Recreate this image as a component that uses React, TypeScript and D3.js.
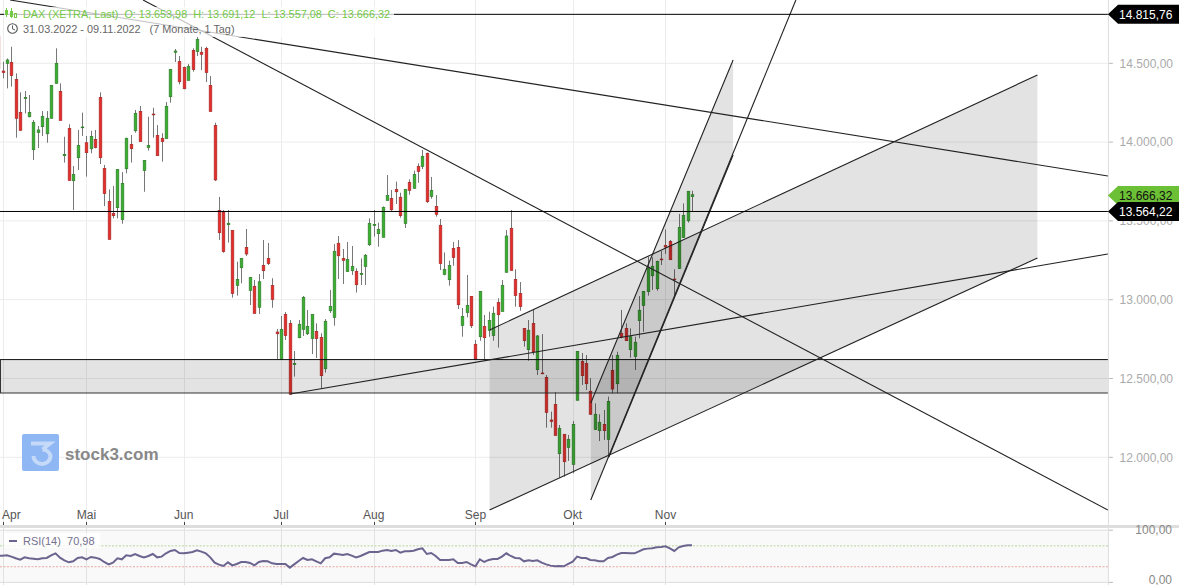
import React from 'react';
import * as d3 from 'd3';

const W = 1179;
const H = 585;

const opens = [14673,14451,14500,14506,14398,14189,14276,14161,13952,14060,14098,14053,14151,14373,14322,13914,14087,13755,13901,14092,
  13996,13958,14017,14284,13833,13624,13548,13584,13508,13831,13986,14072,14195,13819,13965,14178,14043,14024,14022,14288,
  14570,14512,14474,14392,14582,14574,14570,14595,14360,14106,13567,13556,13476,13440,13091,13203,13332,13059,13085,12952,
  13218,13262,13091,12795,12622,12907,12850,12588,12759,12812,12784,12753,12799,12761,12562,12930,12888,13358,13262,13178,
  13184,13180,13159,13210,13349,13470,13419,13396,13630,13643,13700,13650,13484,13745,13707,13846,13846,13929,13656,13592,
  13472,13161,13127,13326,13332,12837,12918,13021,12717,12765,12831,12806,12772,12983,12926,13174,13453,13129,13040,12818,
  12683,12850,12556,12535,12507,12237,12336,12023,12146,12063,11955,12362,12609,12596,12419,12177,12169,12209,12114,12552,
  12467,12787,12818,12683,12639,12867,12964,13051,13152,13070,13258,13345,13370,13131,13199,13394,13501,13653.98];
const highs = [14673,14510,14531,14605,14436,14316,14324,14299,14140,14102,14197,14197,14360,14595,14373,14034,14113,13848,14077,14187,
  14039,14072,14077,14316,13855,13700,13721,13827,13810,14028,14045,14204,14229,13884,14161,14218,14108,14056,14254,14462,
  14591,14546,14479,14495,14595,14669,14605,14605,14419,14123,13652,13569,13569,13440,13241,13262,13449,13142,13125,13163,
  13379,13360,13136,12814,12897,12922,12871,12674,12871,13023,12935,12907,12850,12787,12877,13062,13353,13404,13322,13366,
  13341,13199,13262,13290,13516,13569,13489,13592,13791,13696,13749,13679,13700,13764,13819,13865,13950,13933,13779,13664,
  13512,13300,13248,13366,13379,12947,13157,13021,12744,13053,12903,12924,12956,13009,13125,13442,13569,13193,13112,12818,
  12871,12939,12776,12782,12522,12290,12414,12205,12146,12142,12230,12672,12662,12649,12503,12342,12273,12300,12385,12649,
  12670,12935,12850,12818,12765,13023,13053,13273,13269,13248,13309,13446,13379,13193,13544,13611,13688,13691.12];
const lows = [14450,14405,14341,14352,14028,14070,14182,14157,13886,13962,14039,13996,14151,14373,14138,13870,13757,13569,13823,14039,
  13781,13929,13960,13861,13594,13383,13516,13516,13482,13802,13870,14060,14003,13685,13946,14028,13914,13876,14022,14250,
  14508,14366,14335,14390,14447,14546,14457,14381,14193,13753,13379,13298,13362,13013,13026,13104,13277,12966,12913,12909,
  13131,13220,12949,12622,12617,12744,12400,12512,12755,12770,12776,12655,12630,12438,12537,12916,12835,13131,13100,13178,
  13157,13045,13093,13093,13341,13400,13336,13396,13630,13563,13607,13520,13455,13666,13704,13742,13829,13614,13641,13527,
  13188,13155,13089,13216,12941,12765,12888,12820,12617,12740,12617,12765,12740,12696,12924,13172,13186,12956,12930,12702,
  12613,12649,12522,12528,12188,12188,12137,11871,11877,11977,11898,12362,12459,12427,12271,12173,12103,12110,12004,12406,
  12406,12755,12740,12632,12554,12755,12797,13026,13062,13057,13220,13290,13252,13030,13195,13394,13489,13557.08];
const closes = [14468,14441,14521,14422,14151,14075,14284,14189,14125,14077,14163,14151,14360,14500,14138,13922,13757,13795,13979,14096,
  13933,14036,13965,13901,13673,13383,13533,13827,13738,14024,13958,14182,14003,13884,13979,14174,13914,14003,14227,14462,
  14578,14383,14339,14481,14460,14652,14557,14441,14195,13760,13425,13305,13485,13040,13129,13262,13290,13142,12913,13114,
  13184,13229,13002,12784,12812,12772,12400,12596,12844,13015,12831,12907,12753,12518,12863,12958,13307,13279,13250,13256,
  13212,13095,13167,13282,13484,13478,13446,13586,13662,13571,13685,13533,13700,13694,13795,13814,13910,13622,13694,13542,
  13229,13193,13218,13267,12968,12894,12964,12835,12624,13053,12759,12869,12914,12905,13091,13404,13186,13026,12956,12740,
  12806,12670,12770,12531,12285,12228,12139,12184,11972,12114,12209,12672,12518,12467,12273,12273,12222,12169,12355,12433,
  12647,12763,12740,12765,12730,12933,13053,13201,13212,13243,13254,13334,13254,13127,13459,13535,13688,13666.32];
const rsiValues = [50.6,51.2,51.9,49.3,46.2,43.6,48,46.2,45.5,44.2,46.2,46.8,51.9,55.7,47.4,42.3,38.5,40.4,46.8,48,
  44.2,48.7,47.4,44.9,39.1,34.6,37.8,46.2,44.2,51.9,50.6,54.4,50.6,48,50.6,54.4,48,49.3,55.7,60.2,
  62.1,56.4,55.7,57,58.3,61.5,58.9,55.7,48,37.8,34,31.5,38.5,32.7,35.3,39.1,39.1,37.2,32.7,39.1,
  41,40.4,36.6,35.3,35.3,35.3,28.3,34.6,41,46.8,43,44.2,40.4,36.6,46.2,48,55.1,53.8,52.5,54.4,
  51.2,48,50.6,54.4,58.3,58.3,58.3,60.8,62.1,60.2,62.1,57,59.6,59.6,60.8,63.4,65.3,54.4,56.4,50.6,
  43,43,43,44.2,37.2,37.2,39.1,34.6,30.8,44.2,39.1,43,44.9,44.9,49.3,55.7,50.6,46.8,46.2,40.4,
  42.3,41,42.3,37.8,34.6,32.1,30.8,31.5,30.8,35.3,39.8,49.3,46.8,46.8,43,42.3,40.4,40.4,46.8,48.7,
  53.2,56.4,56.4,55.7,55.7,59.6,63.4,64.7,65.3,67.2,67.9,69.1,65.3,60.2,67.2,69.8,71,70.98];

const priceTicks = [14500, 14000, 13500, 13000, 12500, 12000];
const monthLabels = ['Apr', 'Mai', 'Jun', 'Jul', 'Aug', 'Sep', 'Okt', 'Nov'];
const monthIndex = [1, 20, 42, 64, 85, 108, 130, 151];
const rsiTicks = [100, 0];
const rsiGuides = [70, 30];

const resistance = 14815.76;
const support = 13564.22;
const lastClose = 13666.32;
const zoneTop = 12620;
const zoneBottom = 12408;
const lastBar = 251.1;

// index, price
const trendLines: [number, number, number, number][] = [
  [32.8, 14901.6, lastBar, 11665.6],
  [2.7, 14901.6, lastBar, 13784.9],
  [66.1, 12401.7, lastBar, 13290],
  [134.1, 11729, 180.5, 14901.6],
  [138.2, 12002, 166.3, 13918],
];
// upper start, upper end, lower end, lower start
const channels: [number, number][][] = [
  [[111.2, 12807.8], [235.15, 14425.7], [235.15, 13264.6], [111.2, 11665.6]],
  [[134.1, 12344.5], [166.3, 14520.9], [166.3, 13918], [134.1, 11729]],
];

const fmt = (v: number) =>
  v.toLocaleString('de-DE', { minimumFractionDigits: 2, maximumFractionDigits: 2 });

const FONT = '"Liberation Sans", Arial, sans-serif';

const App: React.FC = () => {
  const x = d3.scaleLinear().domain([1, 157]).range([2.5, 692]);
  const y = d3.scaleLinear().domain([14500, 12000]).range([63.3, 457.3]);
  const rsiY = d3.scaleLinear().domain([100, 0]).range([530.2, 582.4]);
  const plotRight = x(lastBar);

  const rsiLine = d3.line<number>()
    .x((_, i) => x(i))
    .y(d => rsiY(d))
    .curve(d3.curveLinear);

  const tag = (value: number, fill: string, color: string) => {
    const cy = y(value) + 0.8;
    return (
      <g key={value}>
        <path d={`M${plotRight},${cy} L1118,${cy - 9.5} H1179 V${cy + 9.5} H1118 Z`} fill={fill} />
        <text x={1119} y={cy + 4.3} fontSize={12} fill={color}>{fmt(value)}</text>
      </g>
    );
  };

  return (
    <svg width={W} height={H} style={{ position: 'absolute', left: 0, top: 0, display: 'block', background: '#fff' }} fontFamily={FONT}>
      <defs>
        <clipPath id="main"><rect x={0} y={0} width={plotRight} height={525} /></clipPath>
      </defs>

      {/* Grid */}
      {priceTicks.map(t => (
        <line key={t} x1={0} x2={plotRight} y1={y(t)} y2={y(t)} stroke="#ececec" strokeWidth={1} />
      ))}
      {monthIndex.map(i => (
        <line key={i} x1={Math.round(x(i)) + 0.5} x2={Math.round(x(i)) + 0.5} y1={0} y2={525} stroke="#ececec" strokeWidth={1} />
      ))}

      {/* Watermark */}
      <rect x={22} y={434} width={37} height={37} rx={2} fill="#8fb7f4" />
      <path d="M31,443.5 H50 L42.5,449.5 M33.5,456 A8.5,8 0 0 0 50.5,456 A8.5,8 0 0 0 42.5,449.5" fill="none" stroke="#c5d9f8" strokeWidth={4} />
      <text x={65} y={459.5} fontSize={17} fontWeight={700} fill="#888">stock3.com</text>

      {/* Candles */}
      <g clipPath="url(#main)">
        {opens.map((o, i) => {
          const c = closes[i];
          const up = c >= o;
          const cx = Math.round(x(i));
          const top = y(Math.max(o, c));
          const bottom = y(Math.min(o, c));
          return (
            <g key={i}>
              <line x1={cx + 0.5} x2={cx + 0.5} y1={y(highs[i])} y2={y(lows[i])} stroke="#777" strokeWidth={1} />
              <rect
                x={cx - 0.8}
                y={top}
                width={2.6}
                height={Math.max(bottom - top, 0.8)}
                fill={up ? '#3bb02f' : '#e82e2a'}
                stroke={up ? '#2f7f2a' : '#a82a28'}
                strokeWidth={0.7}
              />
            </g>
          );
        })}

        {/* Drawings */}
        <rect x={0.5} y={y(zoneTop)} width={plotRight - 0.5} height={y(zoneBottom) - y(zoneTop)} fill="rgba(0,0,0,0.11)" stroke="none" />
        <line x1={0} x2={plotRight} y1={y(zoneTop)} y2={y(zoneTop)} stroke="#111" strokeWidth={1} />
        <line x1={0} x2={plotRight} y1={y(zoneBottom)} y2={y(zoneBottom)} stroke="#333" strokeWidth={1.2} />
        <line x1={0.5} x2={0.5} y1={y(zoneTop)} y2={y(zoneBottom)} stroke="#333" strokeWidth={1} />
        {channels.map((ch, k) => (
          <g key={k}>
            <path
              d={d3.line<[number, number]>().x(d => x(d[0])).y(d => y(d[1]))(ch) + 'Z'}
              fill="rgba(0,0,0,0.11)"
            />
            <line x1={x(ch[0][0])} y1={y(ch[0][1])} x2={x(ch[1][0])} y2={y(ch[1][1])} stroke="#222" strokeWidth={1.1} />
            {k === 0 && (
              <line x1={x(ch[2][0])} y1={y(ch[2][1])} x2={x(ch[3][0])} y2={y(ch[3][1])} stroke="#222" strokeWidth={1.1} />
            )}
          </g>
        ))}
        {trendLines.map((l, k) => (
          <line key={k} x1={x(l[0])} y1={y(l[1])} x2={x(l[2])} y2={y(l[3])} stroke="#222" strokeWidth={1.1} />
        ))}
        <line x1={0} x2={plotRight} y1={y(resistance) + 0.8} y2={y(resistance) + 0.8} stroke="#000" strokeWidth={1} />
        <line x1={0} x2={plotRight} y1={y(support) + 0.7} y2={y(support) + 0.7} stroke="#000" strokeWidth={1} />
      </g>

      {/* Header */}
      <rect x={4} y={7} width={390} height={30} fill="rgba(255,255,255,0.72)" />
      <g stroke="#74c947" fill="none" strokeWidth={1}>
        <line x1={6.5} x2={6.5} y1={8} y2={17} />
        <rect x={5.5} y={10.5} width={2} height={4} />
        <line x1={11.5} x2={11.5} y1={8} y2={18} />
        <rect x={10.5} y={11.5} width={2} height={5} />
        <rect x={14.5} y={13.5} width={2} height={4} />
      </g>
      <text x={23} y={17.5} fontSize={10.87} fill="#74c947" xmlSpace="preserve">DAX (XETRA, Last)  O: 13.653,98  H: 13.691,12  L: 13.557,08  C: 13.666,32</text>
      <circle cx={12.5} cy={28.5} r={4.8} fill="none" stroke="#555" strokeWidth={1.1} />
      <path d="M12.5,25.5 V28.8 L15,30" fill="none" stroke="#555" strokeWidth={1} />
      <text x={23} y={33} fontSize={10.87} fill="#666" xmlSpace="preserve">31.03.2022 - 09.11.2022   (7 Monate, 1 Tag)</text>

      {/* Price axis */}
      <line x1={plotRight + 0.5} x2={plotRight + 0.5} y1={0} y2={525} stroke="#ddd" strokeWidth={1} />
      {priceTicks.map(t => (
        <g key={t}>
          <line x1={plotRight + 1} x2={plotRight + 5} y1={y(t)} y2={y(t)} stroke="#bbb" strokeWidth={1} />
          <text x={1173} y={y(t) + 4.3} fontSize={12} textAnchor="end" fill="#aaa">{fmt(t)}</text>
        </g>
      ))}
      {tag(lastClose, '#6cc035', '#111')}
      {tag(support, '#000', '#fff')}
      {tag(resistance, '#000', '#fff')}

      {/* Time axis */}
      {monthIndex.map((i, k) => (
        <g key={i}>
          <line x1={Math.round(x(i)) + 0.5} x2={Math.round(x(i)) + 0.5} y1={522} y2={525} stroke="#444" strokeWidth={1} />
          <text x={k === 0 ? 2 : x(i)} y={519} fontSize={12} textAnchor={k === 0 ? 'start' : 'middle'} fill="#555">{monthLabels[k]}</text>
        </g>
      ))}
      <rect x={0} y={525} width={W} height={3} fill="#dedede" />

      {/* RSI panel */}
      <rect x={0} y={rsiY(100)} width={plotRight} height={rsiY(0) - rsiY(100)} fill="#f9f9f9" />
      {rsiTicks.map(t => (
        <line key={t} x1={0} x2={plotRight} y1={rsiY(t)} y2={rsiY(t)} stroke="#ddd" strokeWidth={1} />
      ))}
      {monthIndex.map(i => (
        <line key={i} x1={Math.round(x(i)) + 0.5} x2={Math.round(x(i)) + 0.5} y1={528} y2={H} stroke="#e2e2e2" strokeWidth={1} />
      ))}
      <line x1={plotRight + 0.5} x2={plotRight + 0.5} y1={528} y2={H} stroke="#ddd" strokeWidth={1} />
      <line x1={0} x2={plotRight} y1={rsiY(rsiGuides[0])} y2={rsiY(rsiGuides[0])} stroke="#b4d69a" strokeWidth={1} strokeDasharray="2,1.5" />
      <line x1={0} x2={plotRight} y1={rsiY(rsiGuides[1])} y2={rsiY(rsiGuides[1])} stroke="#eaa5a5" strokeWidth={1} strokeDasharray="2,1.5" />
      <path d={rsiLine(rsiValues) ?? ''} fill="none" stroke="#6b648f" strokeWidth={2} />
      <rect x={4} y={533} width={96} height={15} fill="rgba(255,255,255,0.75)" />
      <line x1={9} x2={17} y1={541} y2={541} stroke="#6b648f" strokeWidth={2} />
      <text x={23} y={545} fontSize={11} fill="#75708f" xmlSpace="preserve">RSI(14)  70,98</text>
      {rsiTicks.map(t => (
        <g key={t}>
          <line x1={plotRight + 1} x2={plotRight + 5} y1={rsiY(t)} y2={rsiY(t)} stroke="#bbb" strokeWidth={1} />
          <text x={1172} y={t === 100 ? rsiY(t) + 4 : rsiY(t) + 2} fontSize={12} textAnchor="end" fill="#888">{fmt(t)}</text>
        </g>
      ))}
    </svg>
  );
};

export default App;
